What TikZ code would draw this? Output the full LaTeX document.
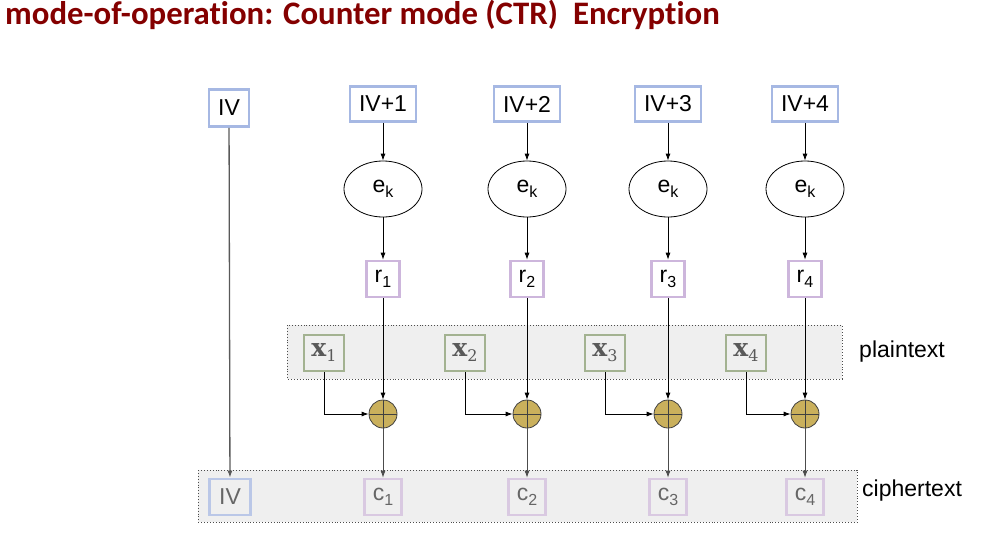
\documentclass[tikz,border=0pt]{standalone}
\usepackage{fontspec}
\setmainfont{Liberation Sans}
\newfontfamily\titlefont[Ligatures=NoCommon]{Carlito}
\newfontfamily\slabfont{DejaVu Serif}
\usetikzlibrary{shapes.geometric, arrows.meta}
\definecolor{ivblue}{HTML}{A6B8E3}
\definecolor{ivfade}{HTML}{BAC7E7}
\definecolor{rpurple}{HTML}{CDB6DC}
\definecolor{cfade}{HTML}{D9C9E1}
\definecolor{xgreen}{HTML}{A3B291}
\definecolor{xorgold}{HTML}{CAB05C}
\definecolor{bggray}{HTML}{EFEFEF}
\definecolor{titlered}{HTML}{840000}
\newcommand{\lowsub}[1]{\raisebox{-5pt}{\fontsize{16}{16}\selectfont #1}}

\begin{document}
\begin{tikzpicture}[x=1pt, y=-1pt, >={Latex[length=7pt,width=5pt]},
    txt/.style={font=\fontsize{23}{26}\selectfont, inner sep=0pt},
    ivbox/.style={txt, draw=ivblue, line width=2.6pt, fill=white, minimum height=35pt},
    rbox/.style={txt, draw=rpurple, line width=2.6pt, fill=white, minimum width=33pt, minimum height=36pt},
    xbox/.style={txt, draw=xgreen, line width=2.8pt, fill=bggray, minimum width=40pt, minimum height=36pt, text=black!65},
    cbox/.style={txt, draw=cfade, line width=2.6pt, fill=bggray, minimum width=37pt, minimum height=36pt, text=black!60},
    encnode/.style={txt, ellipse, draw, line width=0.8pt, fill=white, minimum width=78pt, minimum height=56pt},
    xornode/.style={circle, draw=black!75, line width=0.8pt, fill=xorgold, minimum size=28pt, inner sep=0pt,
        path picture={\draw[black!75, line width=0.8pt]
            (path picture bounding box.north) -- (path picture bounding box.south)
            (path picture bounding box.west) -- (path picture bounding box.east);}},
    band/.style={fill=bggray, draw=black!70, dotted, line width=0.9pt},
    link/.style={->, line width=0.8pt}]
    \useasboundingbox (0,0) rectangle (1000,544);
    % title
    \node[anchor=base west, inner sep=0pt, text=titlered, font=\titlefont\bfseries\fontsize{32.8}{36}\selectfont] (title) at (5,24.5) {mode-of-operation: Counter mode (CTR)\ \ Encryption};
    % shaded rows
    \draw[band] (287,325) rectangle (842,379);
    \draw[band] (198,470) rectangle (857,522);
    \node[txt, anchor=base west] (ptlabel) at (859,357) {plaintext};
    \node[txt, anchor=base west] (ctlabel) at (862,496) {ciphertext};
    % initial counter
    \node[ivbox, minimum width=40pt, minimum height=37pt] (iv) at (229,108) {IV};
    \node[ivbox, draw=ivfade, fill=bggray, minimum width=41pt, minimum height=36pt, text=black!60] (ivout) at (230,497) {IV};
    \draw[->, draw=black!65, line width=1.3pt] (iv) -- (ivout);
    % one column per block
    \foreach \i/\cx/\px in {1/383/324, 2/527/465, 3/668/605, 4/805/746} {
        \node[ivbox, minimum width=66pt] (ctr\i) at (\cx,104) {IV+\i};
        \node[encnode] (enc\i) at (\cx,189) {e\lowsub{k}};
        \node[rbox] (r\i) at (\cx,279) {r\lowsub{\i}};
        \node[xbox] (x\i) at (\px,353) {{\slabfont\bfseries\fontsize{25}{26}\selectfont x}\lowsub{\slabfont\i}};
        \node[xornode] (xor\i) at (\cx,414) {};
        \node[cbox] (c\i) at (\cx,497) {c\lowsub{\i}};
        \draw[link] (ctr\i) -- (enc\i);
        \draw[link] (enc\i) -- (r\i);
        \draw[link] (r\i) -- (xor\i);
        \draw[link] (x\i.south) |- (xor\i.west);
        \draw[link, draw=black!70] (xor\i) -- (c\i);
    }
\end{tikzpicture}
\end{document}
